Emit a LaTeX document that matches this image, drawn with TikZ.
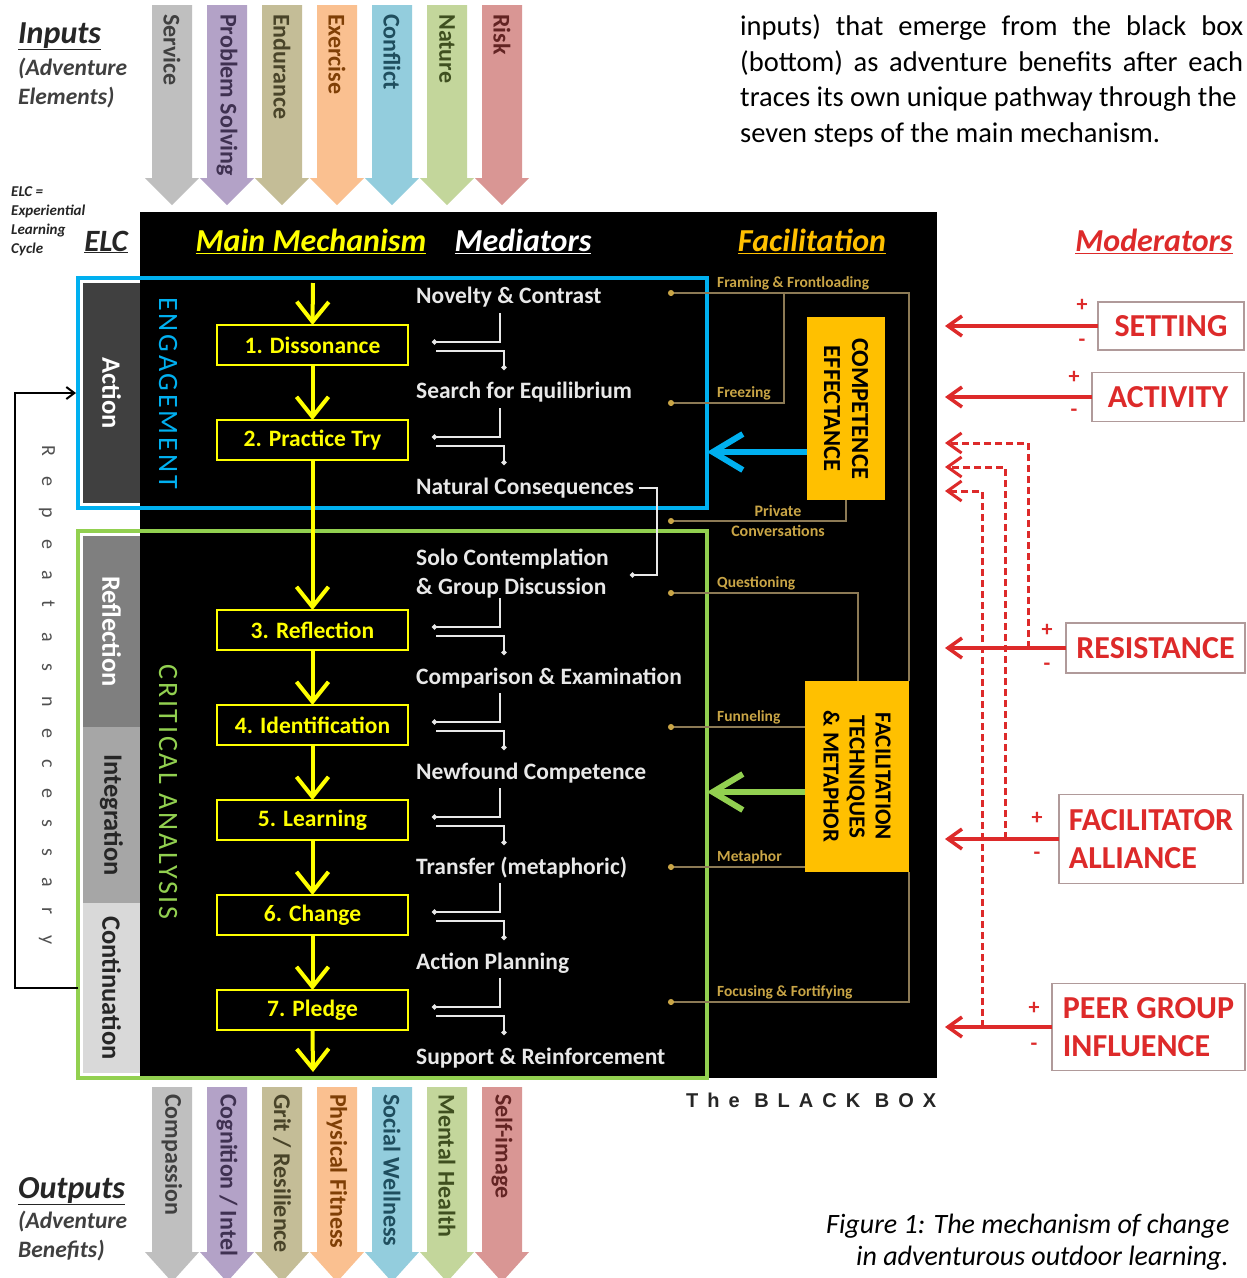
\documentclass[tikz,border=0pt]{standalone}
\usepackage{fontspec}
\setmainfont{Carlito}
\newfontfamily\bbfont{Liberation Sans}
\usetikzlibrary{arrows.meta,calc}
\definecolor{inGray}{HTML}{BFBFBF}
\definecolor{inPurple}{HTML}{B3A2C7}
\definecolor{inTan}{HTML}{C4BD97}
\definecolor{inOrange}{HTML}{FAC090}
\definecolor{inBlue}{HTML}{93CDDD}
\definecolor{inGreen}{HTML}{C3D69B}
\definecolor{inRed}{HTML}{D99694}
\definecolor{dkGray}{HTML}{404040}
\definecolor{dkPurple}{HTML}{3F3151}
\definecolor{dkTan}{HTML}{494429}
\definecolor{dkOrange}{HTML}{7F3F06}
\definecolor{dkBlue}{HTML}{1F4E5E}
\definecolor{dkGreen}{HTML}{3F4F20}
\definecolor{dkRed}{HTML}{632423}
\definecolor{mechYellow}{HTML}{FFFF00}
\definecolor{facGold}{HTML}{FFC000}
\definecolor{engBlue}{HTML}{00B0F0}
\definecolor{critGreen}{HTML}{92D050}
\definecolor{facLine}{HTML}{8C7A55}
\definecolor{facLabel}{HTML}{C9A546}
\definecolor{modRed}{HTML}{DD2A2A}
\definecolor{modBorder}{HTML}{B09A9A}
\definecolor{medWhite}{HTML}{E8E8E8}
\definecolor{actGray}{HTML}{404040}
\definecolor{refGray}{HTML}{7F7F7F}
\definecolor{intGray}{HTML}{A6A6A6}
\definecolor{conGray}{HTML}{D9D9D9}
\definecolor{txtDark}{HTML}{262626}
\definecolor{repGray}{HTML}{505050}
\newcommand\myfs[1]{\fontsize{#1}{#1}\selectfont}
\newcommand\inArrow[5]{%
  \fill[#2] (#1-20,5) -- (#1+20,5) -- (#1+20,178) -- (#1+27,178) -- (#1,205) -- (#1-27,178) -- (#1-20,178) -- cycle;
  \node[arrlabel,text=#3] (#4) at (#1,14) {#5};}
\newcommand\outArrow[5]{%
  \fill[#2] (#1-20,1087) -- (#1+20,1087) -- (#1+20,1252) -- (#1+27,1252) -- (#1,1282) -- (#1-27,1252) -- (#1-20,1252) -- cycle;
  \node[arrlabel,text=#3] (#4) at (#1,1094) {#5};}
\begin{document}
\begin{tikzpicture}[x=1pt,y=-1pt,
  arrlabel/.style={rotate=-90,anchor=west,inner sep=0,font=\bfseries\myfs{24}},
  stepbox/.style={draw=mechYellow,line width=2.5pt,fill=black,text=mechYellow,font=\bfseries\myfs{23.5},minimum width=191pt,minimum height=40pt,inner sep=0,outer sep=0},
  mecharrow/.style={draw=mechYellow,line width=4pt,-{Straight Barb[length=20pt,width=32pt]}},
  medtext/.style={anchor=west,inner sep=0,text=medWhite,font=\bfseries\myfs{23.5}},
  medline/.style={draw=medWhite,line width=1.6pt,-{Circle[length=5pt]}},
  facline/.style={draw=facLine,line width=1.5pt,-{Circle[length=6pt,color=facLabel]}},
  faclabel/.style={anchor=west,inner sep=0,text=facLabel,font=\bfseries\myfs{15.5}},
  elcbox/.style={rotate=-90,minimum height=57pt,inner sep=0,outer sep=0,font=\bfseries\myfs{26.5}},
  header/.style={inner sep=0,font=\bfseries\itshape\myfs{32}},
  modbox/.style={draw=modBorder,line width=1.5pt,fill=white,text=modRed,font=\bfseries\fontsize{32}{38}\selectfont,align=left,inner sep=0,outer sep=0},
  modarrow/.style={draw=modRed,line width=3.5pt,-{Straight Barb[length=14pt,width=20pt]}},
  moddash/.style={draw=modRed,line width=3pt,dash pattern=on 7pt off 4pt,-{Straight Barb[length=14pt,width=20pt]}},
  pm/.style={text=modRed,font=\bfseries\myfs{22},inner sep=0},
  lefttxt/.style={anchor=base west,inner sep=0,text=txtDark},
  yellowbox/.style={rotate=-90,fill=facGold,inner sep=0,outer sep=0,align=center,text=black}
]
\useasboundingbox (0,0) rectangle (1247,1278);
\fill[white] (0,0) rectangle (1247,1278);

% ---------- top paragraph
\node[lefttxt,font=\myfs{28.5},text=black] (p1) at (740,35) {\makebox[503pt][s]{inputs) that emerge from the black box}};
\node[lefttxt,font=\myfs{28.5},text=black] (p2) at (740,71) {\makebox[503pt][s]{(bottom) as adventure benefits after each}};
\node[lefttxt,font=\myfs{28.5},text=black] (p3) at (740,106) {traces its own unique pathway through the};
\node[lefttxt,font=\myfs{28.5},text=black] (p4) at (740,142) {seven steps of the main mechanism.};

% ---------- inputs
\node[lefttxt,font=\bfseries\itshape\myfs{32}] (inT) at (18,43) {\underline{Inputs}};
\node[lefttxt,font=\bfseries\itshape\myfs{23.5},text=dkGray] (inS1) at (18,75) {(Adventure};
\node[lefttxt,font=\bfseries\itshape\myfs{23.5},text=dkGray] (inS2) at (18,104) {Elements)};
\inArrow{172}{inGray}{dkGray}{inA}{Service}
\inArrow{227}{inPurple}{dkPurple}{inB}{Problem Solving}
\inArrow{282}{inTan}{dkTan}{inC}{Endurance}
\inArrow{337}{inOrange}{dkOrange}{inD}{Exercise}
\inArrow{392}{inBlue}{dkBlue}{inE}{Conflict}
\inArrow{447}{inGreen}{dkGreen}{inF}{Nature}
\inArrow{502}{inRed}{dkRed}{inG}{Risk}

% ---------- ELC legend
\node[lefttxt,font=\bfseries\itshape\myfs{15}] (lg1) at (11,196) {ELC =};
\node[lefttxt,font=\bfseries\itshape\myfs{15}] (lg2) at (11,215) {Experiential};
\node[lefttxt,font=\bfseries\itshape\myfs{15}] (lg3) at (11,234) {Learning};
\node[lefttxt,font=\bfseries\itshape\myfs{15}] (lg4) at (11,253) {Cycle};

% ---------- black box
\node[fill=black,inner sep=0,outer sep=0,minimum width=797pt,minimum height=866pt,anchor=north west] (bb) at (140,212) {};
\node[header,text=txtDark,font=\bfseries\itshape\myfs{31}] (elcH) at (106,242) {\underline{ELC}};
\node[header,text=mechYellow] (mmH) at (311,241) {\underline{Main Mechanism}};
\node[header,text=white] (medH) at (523,241) {\underline{Mediators}};
\node[header,text=facGold] (facH) at (812,241) {\underline{Facilitation}};
\node[header,text=modRed] (modH) at (1154,241) {\underline{Moderators}};

% ---------- ELC column
\node[elcbox,fill=actGray,text=white,minimum width=220pt] (act) at (111.5,393) {Action};
\node[elcbox,fill=refGray,text=white,minimum width=191pt] (refl) at (111.5,631.5) {Reflection};
\node[elcbox,fill=intGray,text=txtDark,minimum width=176pt] (integ) at (111.5,815) {Integration};
\node[elcbox,fill=conGray,text=txtDark,minimum width=170pt] (cont) at (111.5,988) {Continuation};

\node[draw=engBlue,line width=4pt,inner sep=0,outer sep=0,minimum width=629pt,minimum height=230pt,anchor=north west] (eng) at (78,278) {};
\node[draw=critGreen,line width=4pt,inner sep=0,outer sep=0,minimum width=629pt,minimum height=547pt,anchor=north west] (crit) at (78,531) {};
\node[rotate=-90,inner sep=0,text=engBlue,font=\myfs{28}\addfontfeature{LetterSpace=10}] (engT) at (168,393) {ENGAGEMENT};
\node[rotate=-90,inner sep=0,text=critGreen,font=\myfs{28}\addfontfeature{LetterSpace=10}] (critT) at (168,792) {CRITICAL ANALYSIS};

% ---------- repeat loop
\draw[black,line width=2pt,-{Straight Barb[length=8pt,width=12pt]}] ($(cont.south)+(-5,0)$) -- ++(-63,0) |- ($(act.south)+(-7,0)$);
\node[rotate=-90,inner sep=0,text=repGray,font=\myfs{20}\addfontfeature{LetterSpace=105}] (rep) at (47,695) {Repeat as necessary};

% ---------- main mechanism
\node[stepbox] (s1) at (312.5,345) {1. Dissonance};
\node[stepbox] (s2) at (312.5,440) {2. Practice Try};
\node[stepbox] (s3) at (312.5,630) {3. Reflection};
\node[stepbox] (s4) at (312.5,725) {4. Identification};
\node[stepbox] (s5) at (312.5,820) {5. Learning};
\node[stepbox] (s6) at (312.5,915) {6. Change};
\node[stepbox] (s7) at (312.5,1010) {7. Pledge};
\coordinate (mTop) at (313,283);
\coordinate (mBot) at (313,1072);
\draw[mecharrow] (mTop) -- (s1.north);
\draw[mecharrow] (s1.south) -- (s2.north);
\draw[mecharrow] (s2.south) -- (s3.north);
\draw[mecharrow] (s3.south) -- (s4.north);
\draw[mecharrow] (s4.south) -- (s5.north);
\draw[mecharrow] (s5.south) -- (s6.north);
\draw[mecharrow] (s6.south) -- (s7.north);
\draw[mecharrow] (s7.south) -- (mBot);

% ---------- mediators
\node[medtext] (m1) at (416,297) {Novelty \& Contrast};
\node[medtext] (m2) at (416,392) {Search for Equilibrium};
\node[medtext] (m3) at (416,488) {Natural Consequences};
\node[medtext,align=left,font=\bfseries\fontsize{23.5}{29}\selectfont] (m4) at (416,573.5) {Solo Contemplation\\\& Group Discussion};
\node[medtext] (m5) at (416,678) {Comparison \& Examination};
\node[medtext] (m6) at (416,773) {Newfound Competence};
\node[medtext] (m7) at (416,868) {Transfer (metaphoric)};
\node[medtext] (m8) at (416,963) {Action Planning};
\node[medtext] (m9) at (416,1058) {Support \& Reinforcement};
\foreach \i in {1,...,7}{
  \draw[medline] ($(s\i.east)+(92,-32)$) |- ($(s\i.east)+(24,-3)$);
  \draw[medline] ($(s\i.east)+(28,6)$) -| ($(s\i.east)+(96,25)$);
}
\coordinate (ncTurn) at (657,575);
\coordinate (ncEnd) at (630,575);
\draw[medline] ($(m3.east)+(5,0)$) -| (ncTurn) -- (ncEnd);

% ---------- facilitation
\node[yellowbox,minimum width=183pt,minimum height=78pt,font=\bfseries\fontsize{24.5}{28}\selectfont] (comp) at (846,408.5) {COMPETENCE\\EFFECTANCE};
\node[yellowbox,minimum width=191pt,minimum height=104pt,font=\bfseries\fontsize{23}{26}\selectfont] (fac) at (857,776.5) {FACILITATION\\TECHNIQUES\\\& METAPHOR};
\coordinate (tFrame) at (668,293);
\coordinate (tFreeze) at (668,403);
\coordinate (tPriv) at (668,521);
\coordinate (tQuest) at (668,593);
\coordinate (tFunnel) at (668,727);
\coordinate (tMeta) at (668,867);
\coordinate (tFocus) at (668,1002);
\coordinate (frzBranch) at (784,293);
\draw[facline] (fac.north west) |- (tFrame);
\draw[facline] (frzBranch) |- (tFreeze);
\draw[facline] (comp.east) |- (tPriv);
\draw[facline] ($(fac.west)+(1,0)$) |- (tQuest);
\draw[facline] (fac.south |- tFunnel) -- (tFunnel);
\draw[facline] (fac.south |- tMeta) -- (tMeta);
\draw[facline] (fac.north east) |- (tFocus);
\node[faclabel] (lFrame) at (717,283) {Framing \& Frontloading};
\node[faclabel] (lFreeze) at (717,393) {Freezing};
\node[faclabel,anchor=center,font=\bfseries\myfs{16}] (lPriv1) at (778,511) {Private};
\node[faclabel,anchor=center,font=\bfseries\myfs{16}] (lPriv2) at (778,531) {Conversations};
\node[faclabel] (lQuest) at (717,583) {Questioning};
\node[faclabel] (lFunnel) at (717,717) {Funneling};
\node[faclabel] (lMeta) at (717,857) {Metaphor};
\node[faclabel] (lFocus) at (717,992) {Focusing \& Fortifying};
\coordinate (blueTip) at (707,452);
\coordinate (greenTip) at (707,792);
\draw[engBlue,line width=6pt,-{Straight Barb[length=30pt,width=36pt]}] (comp.south |- blueTip) -- (blueTip);
\draw[critGreen,line width=6pt,-{Straight Barb[length=30pt,width=36pt]}] (fac.south |- greenTip) -- (greenTip);

% ---------- black box label
\node[lefttxt,text=txtDark,font=\bbfont\bfseries\myfs{20}\addfontfeature{LetterSpace=45}] (bbl) at (686,1107) {The BLACK BOX};

% ---------- moderators
\coordinate (modTip) at (945,0);
\node[modbox,minimum width=146pt,minimum height=48pt] (set) at (1171,326) {SETTING};
\node[modbox,minimum width=152pt,minimum height=49pt] (actv) at (1168,397) {ACTIVITY};
\node[modbox,minimum width=179pt,minimum height=50pt] (res) at (1155.5,648) {RESISTANCE};
\node[modbox,minimum width=184pt,minimum height=89pt] (fa) at (1151,839) {FACILITATOR\\ALLIANCE};
\node[modbox,minimum width=193pt,minimum height=87pt] (pg) at (1148.5,1027) {PEER GROUP\\INFLUENCE};
\draw[modarrow] (set.west) -- (set.west -| modTip);
\draw[modarrow] (actv.west) -- (actv.west -| modTip);
\draw[modarrow] (res.west) -- (res.west -| modTip);
\draw[modarrow] (fa.west) -- (fa.west -| modTip);
\draw[modarrow] (pg.west) -- (pg.west -| modTip);
\coordinate (dA) at (1028,648);
\coordinate (dB) at (1005,839);
\coordinate (dC) at (982,1027);
\draw[moddash] (dA) |- (945,443);
\draw[moddash] (dB) |- (945,467);
\draw[moddash] (dC) |- (945,491);
\node[pm] (setP) at (1082,305) {+};
\node[pm] (setM) at (1082,343) {-};
\node[pm] (actP) at (1074,377) {+};
\node[pm] (actM) at (1074,413) {-};
\node[pm] (resP) at (1047,630) {+};
\node[pm] (resM) at (1047,667) {-};
\node[pm] (faP) at (1037,818) {+};
\node[pm] (faM) at (1037,856) {-};
\node[pm] (pgP) at (1034,1008) {+};
\node[pm] (pgM) at (1034,1047) {-};

% ---------- outputs
\outArrow{172}{inGray}{dkGray}{outA}{Compassion}
\outArrow{227}{inPurple}{dkPurple}{outB}{Cognition / Intel}
\outArrow{282}{inTan}{dkTan}{outC}{Grit / Resilience}
\outArrow{337}{inOrange}{dkOrange}{outD}{Physical Fitness}
\outArrow{392}{inBlue}{dkBlue}{outE}{Social Wellness}
\outArrow{447}{inGreen}{dkGreen}{outF}{Mental Health}
\outArrow{502}{inRed}{dkRed}{outG}{Self-image}
\node[lefttxt,font=\bfseries\itshape\myfs{32}] (outT) at (18,1198) {\underline{Outputs}};
\node[lefttxt,font=\bfseries\itshape\myfs{23.5},text=dkGray] (outS1) at (18,1228) {(Adventure};
\node[lefttxt,font=\bfseries\itshape\myfs{23.5},text=dkGray] (outS2) at (18,1257) {Benefits)};

% ---------- caption
\node[lefttxt,text=black,font=\itshape\myfs{28}] (cap1) at (826,1233) {Figure 1: The mechanism of change};
\node[lefttxt,text=black,font=\itshape\myfs{28}] (cap2) at (856,1265) {in adventurous outdoor learning.};
\end{tikzpicture}
\end{document}
